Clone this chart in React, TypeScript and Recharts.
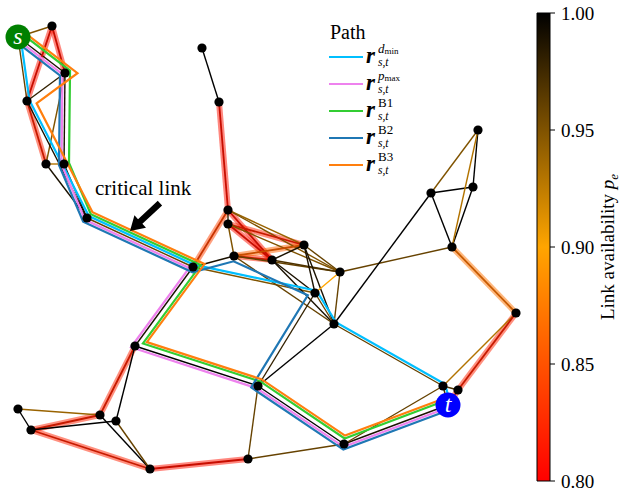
import React from 'react';
import { ScatterChart, Scatter, XAxis, YAxis, ReferenceArea, Legend, Label } from 'recharts';

const FONT = 'Liberation Serif, Times New Roman, DejaVu Serif, serif';

// Node layout coordinates (x to the right, y downward)
const NODE_IDS = ['s', 'a1', 'a2', 'a3', 'a4', 'a5', 'a6', 'b7', 'b8', 'c9', 'c10', 'c11', 'c12', 'c13', 'c14', 'c15', 'c16', 'c17', 'd18', 'd19', 'd20', 'd21', 'd22', 'd23', 'd24', 't', 'e25', 'e26', 'e27', 'e28', 'e29', 'f30', 'f31', 'f32', 'f33'];
const NODE_X = [18, 52, 65, 27, 46, 64, 87, 202, 219, 228, 228, 193, 234, 272, 304, 340, 315, 334, 431, 473, 478, 452, 516, 443, 458, 448, 344, 135, 258, 248, 150, 18, 31, 100, 116];
const NODE_Y = [37, 26, 73, 101, 164, 164, 218, 48, 102, 210, 224, 267, 256, 260, 245, 272, 293, 324, 193, 187, 130, 247, 313, 386, 390, 405, 444, 346, 386, 459, 469, 409, 430, 415, 421];

const SOURCE = 's';
const TARGET = 't';

// Links with their availability p_e
const EDGES: [string, string, number][] = [
  ['s', 'a1', 0.95], ['s', 'a2', 0.99], ['s', 'a3', 0.96], ['a1', 'a2', 0.81], ['a1', 'a3', 0.81],
  ['a2', 'a3', 0.98], ['a2', 'a4', 0.95], ['a2', 'a5', 0.99], ['a3', 'a4', 0.82], ['a3', 'a6', 0.99],
  ['a4', 'a5', 0.93], ['a4', 'a6', 0.99], ['a5', 'a6', 0.99], ['a6', 'c11', 0.96],
  ['b7', 'b8', 1.0], ['b8', 'c9', 0.81], ['c9', 'c10', 0.98], ['c9', 'c11', 0.84], ['c9', 'c13', 0.81],
  ['c9', 'c14', 0.94], ['c9', 'c15', 0.95], ['c10', 'c12', 0.95], ['c10', 'c13', 0.81], ['c10', 'c14', 0.82],
  ['c10', 'c15', 0.95], ['c11', 'c12', 0.99], ['c11', 'c16', 0.95], ['c11', 'e26', 0.99], ['c12', 'c13', 0.82],
  ['c12', 'c14', 0.86], ['c12', 'c15', 0.96], ['c12', 'c17', 0.96], ['c13', 'c14', 0.99], ['c13', 'c15', 0.97],
  ['c13', 'c16', 0.99], ['c13', 'c17', 0.99], ['c14', 'c15', 0.96], ['c14', 'c16', 0.99], ['c14', 'c17', 0.99],
  ['c15', 'c16', 0.9], ['c15', 'c17', 0.96], ['c15', 'd21', 0.96], ['c16', 'c17', 0.96], ['c16', 'e27', 0.98],
  ['c17', 'd18', 1.0], ['c17', 'd23', 0.96], ['c17', 'e27', 1.0],
  ['d18', 'd19', 1.0], ['d18', 'd20', 0.95], ['d18', 'd21', 1.0], ['d19', 'd20', 1.0], ['d19', 'd21', 1.0],
  ['d20', 'd21', 0.93], ['d21', 'd22', 0.87], ['d22', 'd23', 0.93], ['d22', 'd24', 0.82], ['d23', 'd24', 0.97],
  ['d23', 't', 0.97], ['d24', 't', 0.82], ['e25', 't', 0.99], ['e25', 'd23', 0.96], ['e25', 'e27', 1.0],
  ['e25', 'e28', 0.96], ['e26', 'e27', 1.0], ['e26', 'f32', 0.82], ['e26', 'f33', 1.0], ['e27', 'e28', 0.96],
  ['e28', 'e29', 0.81], ['e29', 'f31', 0.82], ['e29', 'f32', 1.0], ['e29', 'f33', 0.96], ['f30', 'f31', 1.0],
  ['f30', 'f32', 0.94], ['f31', 'f32', 0.82], ['f31', 'f33', 1.0],
];

// Candidate s-t routes
const PATH_KEYS = ['dmin', 'pmax', 'B1', 'B2', 'B3'];
const PATH_DMIN = ['s', 'a3', 'a6', 'c11', 'c16', 'c17', 'd23', 't'];
const PATH_PMAX = ['s', 'a2', 'a5', 'a6', 'c11', 'e26', 'e27', 'e25', 't'];
const PATH_B1 = ['s', 'a2', 'a5', 'a6', 'c11', 'e26', 'e27', 'e25', 't'];
const PATH_B2 = ['s', 'a2', 'a5', 'a6', 'c11', 'c12', 'c16', 'e27', 'e25', 't'];
const PATH_B3 = ['s', 'a2', 'a3', 'a6', 'c11', 'e26', 'e27', 'e25', 't'];
const PATH_NODES = [PATH_DMIN, PATH_PMAX, PATH_B1, PATH_B2, PATH_B3];

const CB_TICKS = [0.8, 0.85, 0.9, 0.95, 1.0];
const CB_DOMAIN = [0.8, 1.0];

// Annotation anchors (layout coordinates)
const CRITICAL_TEXT = { x: 95, y: 195, text: 'critical link' };
const CRITICAL_TIP = { x: 130, y: 231 };

// ---- styling ----
const PATH_COLORS: Record<string, string> = {
  dmin: '#00bfff',
  pmax: '#ee82ee',
  B1: '#32cd32',
  B2: '#1f77b4',
  B3: '#ff7f0e',
};
// lane index of each route (perpendicular shift in units of LANE_PX)
const PATH_LANES: Record<string, number> = { dmin: 1, pmax: -1, B1: 2, B2: -2, B3: 3 };
const LANE_PX = 2.5;

const W = 622;
const H = 495;
const PLOT_RIGHT = 550;
const PLOT_TOP = 13;
const PLOT_BOTTOM = 481;

const nodePos = (id: string) => {
  const i = NODE_IDS.indexOf(id);
  return { x: NODE_X[i], y: NODE_Y[i] };
};

// red -> orange -> black
const availColor = (p: number, k = 1) => {
  const t = Math.min(1, Math.max(0, (p - CB_DOMAIN[0]) / (CB_DOMAIN[1] - CB_DOMAIN[0])));
  let r: number;
  let g: number;
  if (t < 0.5) {
    r = 255;
    g = 165 * (t / 0.5);
  } else {
    const u = (t - 0.5) / 0.5;
    r = 255 * (1 - u);
    g = 165 * (1 - u);
  }
  return `rgb(${Math.round(r * k)},${Math.round(g * k)},0)`;
};

// Shift a polyline sideways by d (layout units match screen pixels)
const shiftPolyline = (pts: { x: number; y: number }[], d: number) => {
  const normals = [];
  for (let i = 0; i < pts.length - 1; i++) {
    const dx = pts[i + 1].x - pts[i].x;
    const dy = pts[i + 1].y - pts[i].y;
    const len = Math.hypot(dx, dy) || 1;
    normals.push({ x: dy / len, y: -dx / len });
  }
  return pts.map((p, i) => {
    let m;
    let scale = 1;
    if (i === 0) m = normals[0];
    else if (i === pts.length - 1) m = normals[normals.length - 1];
    else {
      const a = normals[i - 1];
      const b = normals[i];
      const sx = a.x + b.x;
      const sy = a.y + b.y;
      const l = Math.hypot(sx, sy) || 1;
      m = { x: sx / l, y: sy / l };
      scale = 1 / Math.max(0.6, m.x * a.x + m.y * a.y);
    }
    return { x: p.x + m.x * d * scale, y: p.y + m.y * d * scale };
  });
};

const txt = { fontFamily: FONT };

const NoShape = () => <g />;

const NodeDot = (props: any) => <circle cx={props.cx} cy={props.cy} r={4.6} fill="#000" />;

const TerminalDot = (props: any) => {
  const { cx, cy, payload } = props;
  const fill = payload.id === SOURCE ? '#008000' : '#0000ff';
  return (
    <g>
      <circle cx={cx} cy={cy} r={12.5} fill={fill} />
      <text x={cx} y={cy + 7} textAnchor="middle" fill="#fff" fontSize={24} fontStyle="italic" style={txt}>
        {payload.id}
      </text>
    </g>
  );
};

const ArrowShape = (props: any) => {
  const { cx, cy } = props;
  const u = { x: 0.73, y: -0.68 };
  const v = { x: 0.68, y: 0.73 };
  const head = 14;
  const len = 41;
  const hw = 8.5;
  const sw = 3.2;
  const b = { x: cx + u.x * head, y: cy + u.y * head };
  const e = { x: cx + u.x * len, y: cy + u.y * len };
  const pts = [
    [cx, cy],
    [b.x + v.x * hw, b.y + v.y * hw],
    [b.x + v.x * sw, b.y + v.y * sw],
    [e.x + v.x * sw, e.y + v.y * sw],
    [e.x - v.x * sw, e.y - v.y * sw],
    [b.x - v.x * sw, b.y - v.y * sw],
    [b.x - v.x * hw, b.y - v.y * hw],
  ];
  return <polygon points={pts.map((p) => p.join(',')).join(' ')} fill="#000" />;
};

const TextShape = (props: any) => (
  <text x={props.cx} y={props.cy} fontSize={21} fill="#000" style={txt}>
    {props.payload.text}
  </text>
);

const SUPERS: Record<string, React.ReactNode> = {
  dmin: (
    <>
      <tspan fontStyle="italic">d</tspan>
      <tspan fontSize={9} dy={1}>min</tspan>
    </>
  ),
  pmax: (
    <>
      <tspan fontStyle="italic">p</tspan>
      <tspan fontSize={9} dy={1}>max</tspan>
    </>
  ),
  B1: <tspan>B1</tspan>,
  B2: <tspan>B2</tspan>,
  B3: <tspan>B3</tspan>,
};

const PathLegend = () => (
  <svg width={140} height={180} style={{ display: 'block' }}>
    <text x={12} y={29} fontSize={20} fill="#000" style={txt}>Path</text>
    {PATH_KEYS.map((key, i) => {
      const y = 47 + i * 27;
      return (
        <g key={key}>
          <line x1={11} x2={45} y1={y} y2={y} stroke={PATH_COLORS[key]} strokeWidth={2.2} />
          <text x={48} y={y + 6} fontSize={23} fontWeight="bold" fontStyle="italic" fill="#000" style={txt}>r</text>
          <text x={60} y={y - 4} fontSize={13} fill="#000" style={txt}>{SUPERS[key]}</text>
          <text x={60} y={y + 9} fontSize={11.5} fontStyle="italic" fill="#000" style={txt}>s,t</text>
        </g>
      );
    })}
  </svg>
);

const ColorbarLabel = (props: any) => {
  const vb = props.viewBox || { x: PLOT_RIGHT, y: PLOT_TOP, width: 72, height: PLOT_BOTTOM - PLOT_TOP };
  const x = vb.x + vb.width - 8;
  const y = vb.y + vb.height / 2;
  return (
    <text x={x} y={y} transform={`rotate(-90, ${x}, ${y})`} textAnchor="middle" fontSize={19} fill="#000" style={txt}>
      Link availability <tspan fontStyle="italic">p</tspan>
      <tspan fontSize={13} fontStyle="italic" dy={4}>e</tspan>
    </text>
  );
};

export default function App() {
  const edgeData = EDGES.map(([a, b, p]) => ({ a, b, p, pts: [nodePos(a), nodePos(b)] }));
  const pathData = PATH_KEYS.map((key, i) => ({
    key,
    pts: shiftPolyline(PATH_NODES[i].map(nodePos), PATH_LANES[key] * LANE_PX),
  }));
  const nodes = NODE_IDS.map((id) => ({ id, ...nodePos(id) }));
  const plainNodes = nodes.filter((n) => n.id !== SOURCE && n.id !== TARGET);
  const terminals = nodes.filter((n) => n.id === SOURCE || n.id === TARGET);

  return (
    <div style={{ position: 'absolute', left: 0, top: 0, width: W, height: H, background: '#fff', fontFamily: FONT }}>
      <ScatterChart width={W} height={H} margin={{ top: PLOT_TOP, right: 0, bottom: H - PLOT_BOTTOM, left: 0 }}>
        <defs>
          <linearGradient id="availGrad" x1="0" y1="0" x2="0" y2="1">
            <stop offset="0%" stopColor={availColor(1.0)} />
            <stop offset="50%" stopColor={availColor(0.9)} />
            <stop offset="100%" stopColor={availColor(0.8)} />
          </linearGradient>
        </defs>
        <XAxis type="number" dataKey="x" domain={[0, PLOT_RIGHT]} hide allowDataOverflow />
        <YAxis type="number" dataKey="y" domain={[PLOT_TOP, PLOT_BOTTOM]} reversed hide allowDataOverflow />
        <YAxis
          yAxisId="cb"
          orientation="right"
          type="number"
          domain={CB_DOMAIN}
          ticks={CB_TICKS}
          tickFormatter={(v: number) => v.toFixed(2)}
          width={72}
          axisLine={false}
          tickLine={{ stroke: '#000' }}
          tickSize={5}
          tickMargin={6}
          interval={0}
          tick={{ fontSize: 19, fill: '#000', fontFamily: FONT, style: txt }}
          allowDataOverflow
        >
          <Label content={ColorbarLabel} />
        </YAxis>
        <ReferenceArea
          yAxisId="cb"
          x1={537}
          x2={PLOT_RIGHT}
          y1={CB_DOMAIN[0]}
          y2={CB_DOMAIN[1]}
          fill="url(#availGrad)"
          fillOpacity={1}
          stroke="#000"
          strokeWidth={1}
          ifOverflow="visible"
        />

        {/* halos under weak links */}
        {edgeData
          .filter((e) => e.p < 0.9)
          .map((e) => (
            <Scatter
              key={`halo-${e.a}-${e.b}`}
              data={e.pts}
              fill={availColor(e.p)}
              line={{ stroke: availColor(e.p), strokeWidth: 6, strokeOpacity: 0.5 }}
              shape={NoShape}
              legendType="none"
              isAnimationActive={false}
            />
          ))}
        {/* links coloured by availability */}
        {edgeData.map((e) => (
          <Scatter
            key={`edge-${e.a}-${e.b}`}
            data={e.pts}
            fill={availColor(e.p, e.p < 0.9 ? 0.78 : 1)}
            line={{ stroke: availColor(e.p, e.p < 0.9 ? 0.78 : 1), strokeWidth: e.p < 0.9 ? 1.8 : 1.4 }}
            shape={NoShape}
            legendType="none"
            isAnimationActive={false}
          />
        ))}
        {/* routes */}
        {pathData.map((p) => (
          <Scatter
            key={`path-${p.key}`}
            name={p.key}
            data={p.pts}
            fill={PATH_COLORS[p.key]}
            line={{ stroke: PATH_COLORS[p.key], strokeWidth: 2.2 }}
            shape={NoShape}
            legendType="line"
            isAnimationActive={false}
          />
        ))}
        <Scatter data={plainNodes} shape={NodeDot} legendType="none" isAnimationActive={false} />
        <Scatter data={terminals} shape={TerminalDot} legendType="none" isAnimationActive={false} />
        <Scatter data={[CRITICAL_TIP]} shape={ArrowShape} legendType="none" isAnimationActive={false} />
        <Scatter data={[CRITICAL_TEXT]} shape={TextShape} legendType="none" isAnimationActive={false} />

        <Legend
          layout="vertical"
          align="center"
          verticalAlign="middle"
          content={PathLegend}
          wrapperStyle={{ left: 318, top: 10, width: 140, height: 180 }}
        />
      </ScatterChart>
    </div>
  );
}
